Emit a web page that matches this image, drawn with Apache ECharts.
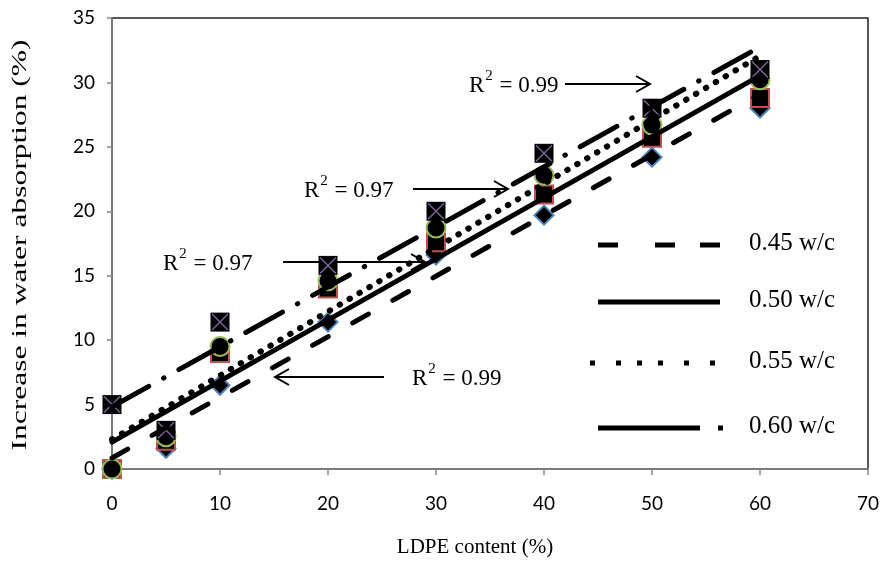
<!DOCTYPE html>
<html>
<head>
<meta charset="utf-8">
<script src="https://cdn.jsdelivr.net/npm/echarts@6/dist/echarts.min.js"></script>
<style>
  html, body { margin: 0; padding: 0; background: #fff; }
  #chart { width: 887px; height: 567px; }
</style>
</head>
<body>
<div id="chart"></div>
<script>
// LDPE content (%) and increase in water absorption (%) for each w/c ratio
const ldpe   = [0, 5, 10, 20, 30, 40, 50, 60];
const wc045  = [0, 1.6, 6.5, 11.4, 16.6, 19.7, 24.2, 28.0];
const wc050  = [0, 2.2, 9.0, 14.0, 17.6, 21.3, 25.7, 28.8];
const wc055  = [0, 2.5, 9.5, 14.6, 18.7, 22.8, 26.7, 30.2];
const wc060  = [5, 3.0, 11.4, 15.8, 20.0, 24.5, 28.0, 31.0];
const seriesNames = ['0.45 w/c', '0.50 w/c', '0.55 w/c', '0.60 w/c'];
const r2Texts = ['0.99', '0.97', '0.97', '0.99'];
const xTitle = 'LDPE content (%)';
const yTitle = 'Increase in water absorption (%)';

const SERIF = '"Liberation Serif", "Times New Roman", serif';
const SANS = 'Lato, "Open Sans", sans-serif';

// least-squares linear trendline over the measured points
function fit(xs, ys) {
  const n = xs.length;
  const mx = xs.reduce((a, b) => a + b, 0) / n;
  const my = ys.reduce((a, b) => a + b, 0) / n;
  let sxy = 0, sxx = 0;
  for (let i = 0; i < n; i++) { sxy += (xs[i] - mx) * (ys[i] - my); sxx += (xs[i] - mx) ** 2; }
  const m = sxy / sxx, b = my - m * mx;
  const x0 = Math.min(...xs), x1 = Math.max(...xs);
  return [[x0, b + m * x0], [x1, b + m * x1]];
}
const pts = ys => ldpe.map((x, i) => [x, ys[i]]);

const dashStyles = [
  { type: [18, 28], width: 5 },          // dashed
  { type: 'solid', width: 5 },           // solid
  { type: [0.5, 11], width: 6 },         // dotted
  { type: [42, 17, 0.5, 17], width: 5 }  // long dash - dot
];
const allData = [wc045, wc050, wc055, wc060];

const series = [];
// markers: diamond, square, circle, crossed square
series.push({ type: 'scatter', name: seriesNames[0], data: pts(wc045), symbol: 'diamond', symbolSize: 19,
  itemStyle: { color: '#000', borderColor: '#4F81BD', borderWidth: 2, opacity: 1 }, z: 3 });
series.push({ type: 'scatter', name: seriesNames[1], data: pts(wc050), symbol: 'rect', symbolSize: 18,
  itemStyle: { color: '#000', borderColor: '#C0504D', borderWidth: 2, opacity: 1 }, z: 4 });
series.push({ type: 'scatter', name: seriesNames[2], data: pts(wc055), symbol: 'circle', symbolSize: 19,
  itemStyle: { color: '#000', borderColor: '#9BBB59', borderWidth: 2, opacity: 1 }, z: 5 });
series.push({ type: 'scatter', name: seriesNames[3], data: pts(wc060), symbol: 'rect', symbolSize: 19,
  itemStyle: { color: '#000', opacity: 1 }, z: 6 });
series.push({ type: 'scatter', name: seriesNames[3] + ' x', data: pts(wc060), symbol: 'path://M0,0L10,10M10,0L0,10',
  symbolSize: 16, itemStyle: { color: 'rgba(0,0,0,0)', borderColor: '#8064A2', borderWidth: 1.4, opacity: 1 }, z: 7 });

// trendlines
allData.forEach((ys, i) => {
  series.push({
    type: 'line', name: seriesNames[i] + ' trend', data: fit(ldpe, ys), symbol: 'none', z: 8,
    lineStyle: { color: '#000', width: dashStyles[i].width, type: dashStyles[i].type, cap: 'round' }
  });
});

// R² annotations with arrows
const notes = [
  { text: r2Texts[3], x: 469, y: 84, a0: 565, a1: 650 },
  { text: r2Texts[2], x: 304, y: 189, a0: 413, a1: 508 },
  { text: r2Texts[1], x: 163, y: 262, a0: 283, a1: 425 },
  { text: r2Texts[0], x: 412, y: 377, a0: 384, a1: 275 }
];
const graphics = [];
notes.forEach(n => {
  graphics.push({
    type: 'text', left: n.x, top: n.y - 15, z: 20,
    style: {
      text: '{r|R}{s|2}{r| = ' + n.text + '}',
      rich: {
        r: { fontFamily: SERIF, fontSize: 23, fill: '#000', verticalAlign: 'bottom', lineHeight: 28 },
        s: { fontFamily: SERIF, fontSize: 15, fill: '#000', verticalAlign: 'top', lineHeight: 28, padding: [0, 1, 8, 1] }
      }
    }
  });
  const dir = n.a1 > n.a0 ? 1 : -1;
  graphics.push({ type: 'line', z: 1, shape: { x1: n.a0, y1: n.y, x2: n.a1, y2: n.y },
    style: { stroke: '#000', lineWidth: 2 } });
  graphics.push({ type: 'polyline', z: 1,
    shape: { points: [[n.a1 - dir * 14, n.y - 8], [n.a1, n.y], [n.a1 - dir * 14, n.y + 8]] },
    style: { stroke: '#000', lineWidth: 2, fill: null } });
});

// legend: line samples drawn with the trendline dash styles
const legendRows = [245, 302, 363, 428];
const legendSamples = [
  [[598, 618], [655, 675], [700, 720]],
  [[598, 720]],
  [[590, 595], [616, 621], [637, 642], [658, 663], [684, 689], [710, 715]],
  [[598, 700], [718, 723]]
];
seriesNames.forEach((name, i) => {
  const y = legendRows[i];
  legendSamples[i].forEach(seg => {
    graphics.push({ type: 'rect', z: 20, shape: { x: seg[0], y: y - 2.5, width: seg[1] - seg[0], height: 5 },
      style: { fill: '#000' } });
  });
  graphics.push({ type: 'text', left: 749, top: y - 14, z: 20,
    style: { text: name, fontFamily: SERIF, fontSize: 25, fill: '#000' } });
});

// axis titles
graphics.push({ type: 'text', x: 20, y: 245, rotation: Math.PI / 2, scaleX: 1.5, z: 20,
  style: { text: yTitle, fontFamily: SERIF, fontSize: 21, fill: '#000', align: 'center', verticalAlign: 'middle' } });
graphics.push({ type: 'text', x: 475, y: 547, z: 20,
  style: { text: xTitle, fontFamily: SERIF, fontSize: 21, fill: '#000', align: 'center', verticalAlign: 'middle' } });

const chart = echarts.init(document.getElementById('chart'), null, { renderer: 'canvas' });
chart.setOption({
  animation: false,
  backgroundColor: '#fff',
  grid: { left: 112, right: 19, top: 18, bottom: 98, show: true, borderColor: '#222', borderWidth: 1.5, backgroundColor: '#fff' },
  xAxis: {
    type: 'value', min: 0, max: 70, interval: 10,
    axisLine: { show: true, lineStyle: { color: '#868686', width: 1.5 } },
    axisTick: { show: true, length: 6, lineStyle: { color: '#868686', width: 1.5 } },
    axisLabel: { fontFamily: SANS, fontSize: 19, color: '#000', margin: 25 },
    splitLine: { show: false }
  },
  yAxis: {
    type: 'value', min: 0, max: 35, interval: 5,
    axisLine: { show: true, lineStyle: { color: '#868686', width: 1.5 } },
    axisTick: { show: true, length: 5, lineStyle: { color: '#868686', width: 1.5 } },
    axisLabel: { fontFamily: SANS, fontSize: 19, color: '#000', margin: 17 },
    splitLine: { show: false }
  },
  series: series,
  graphic: graphics
});
</script>
</body>
</html>
